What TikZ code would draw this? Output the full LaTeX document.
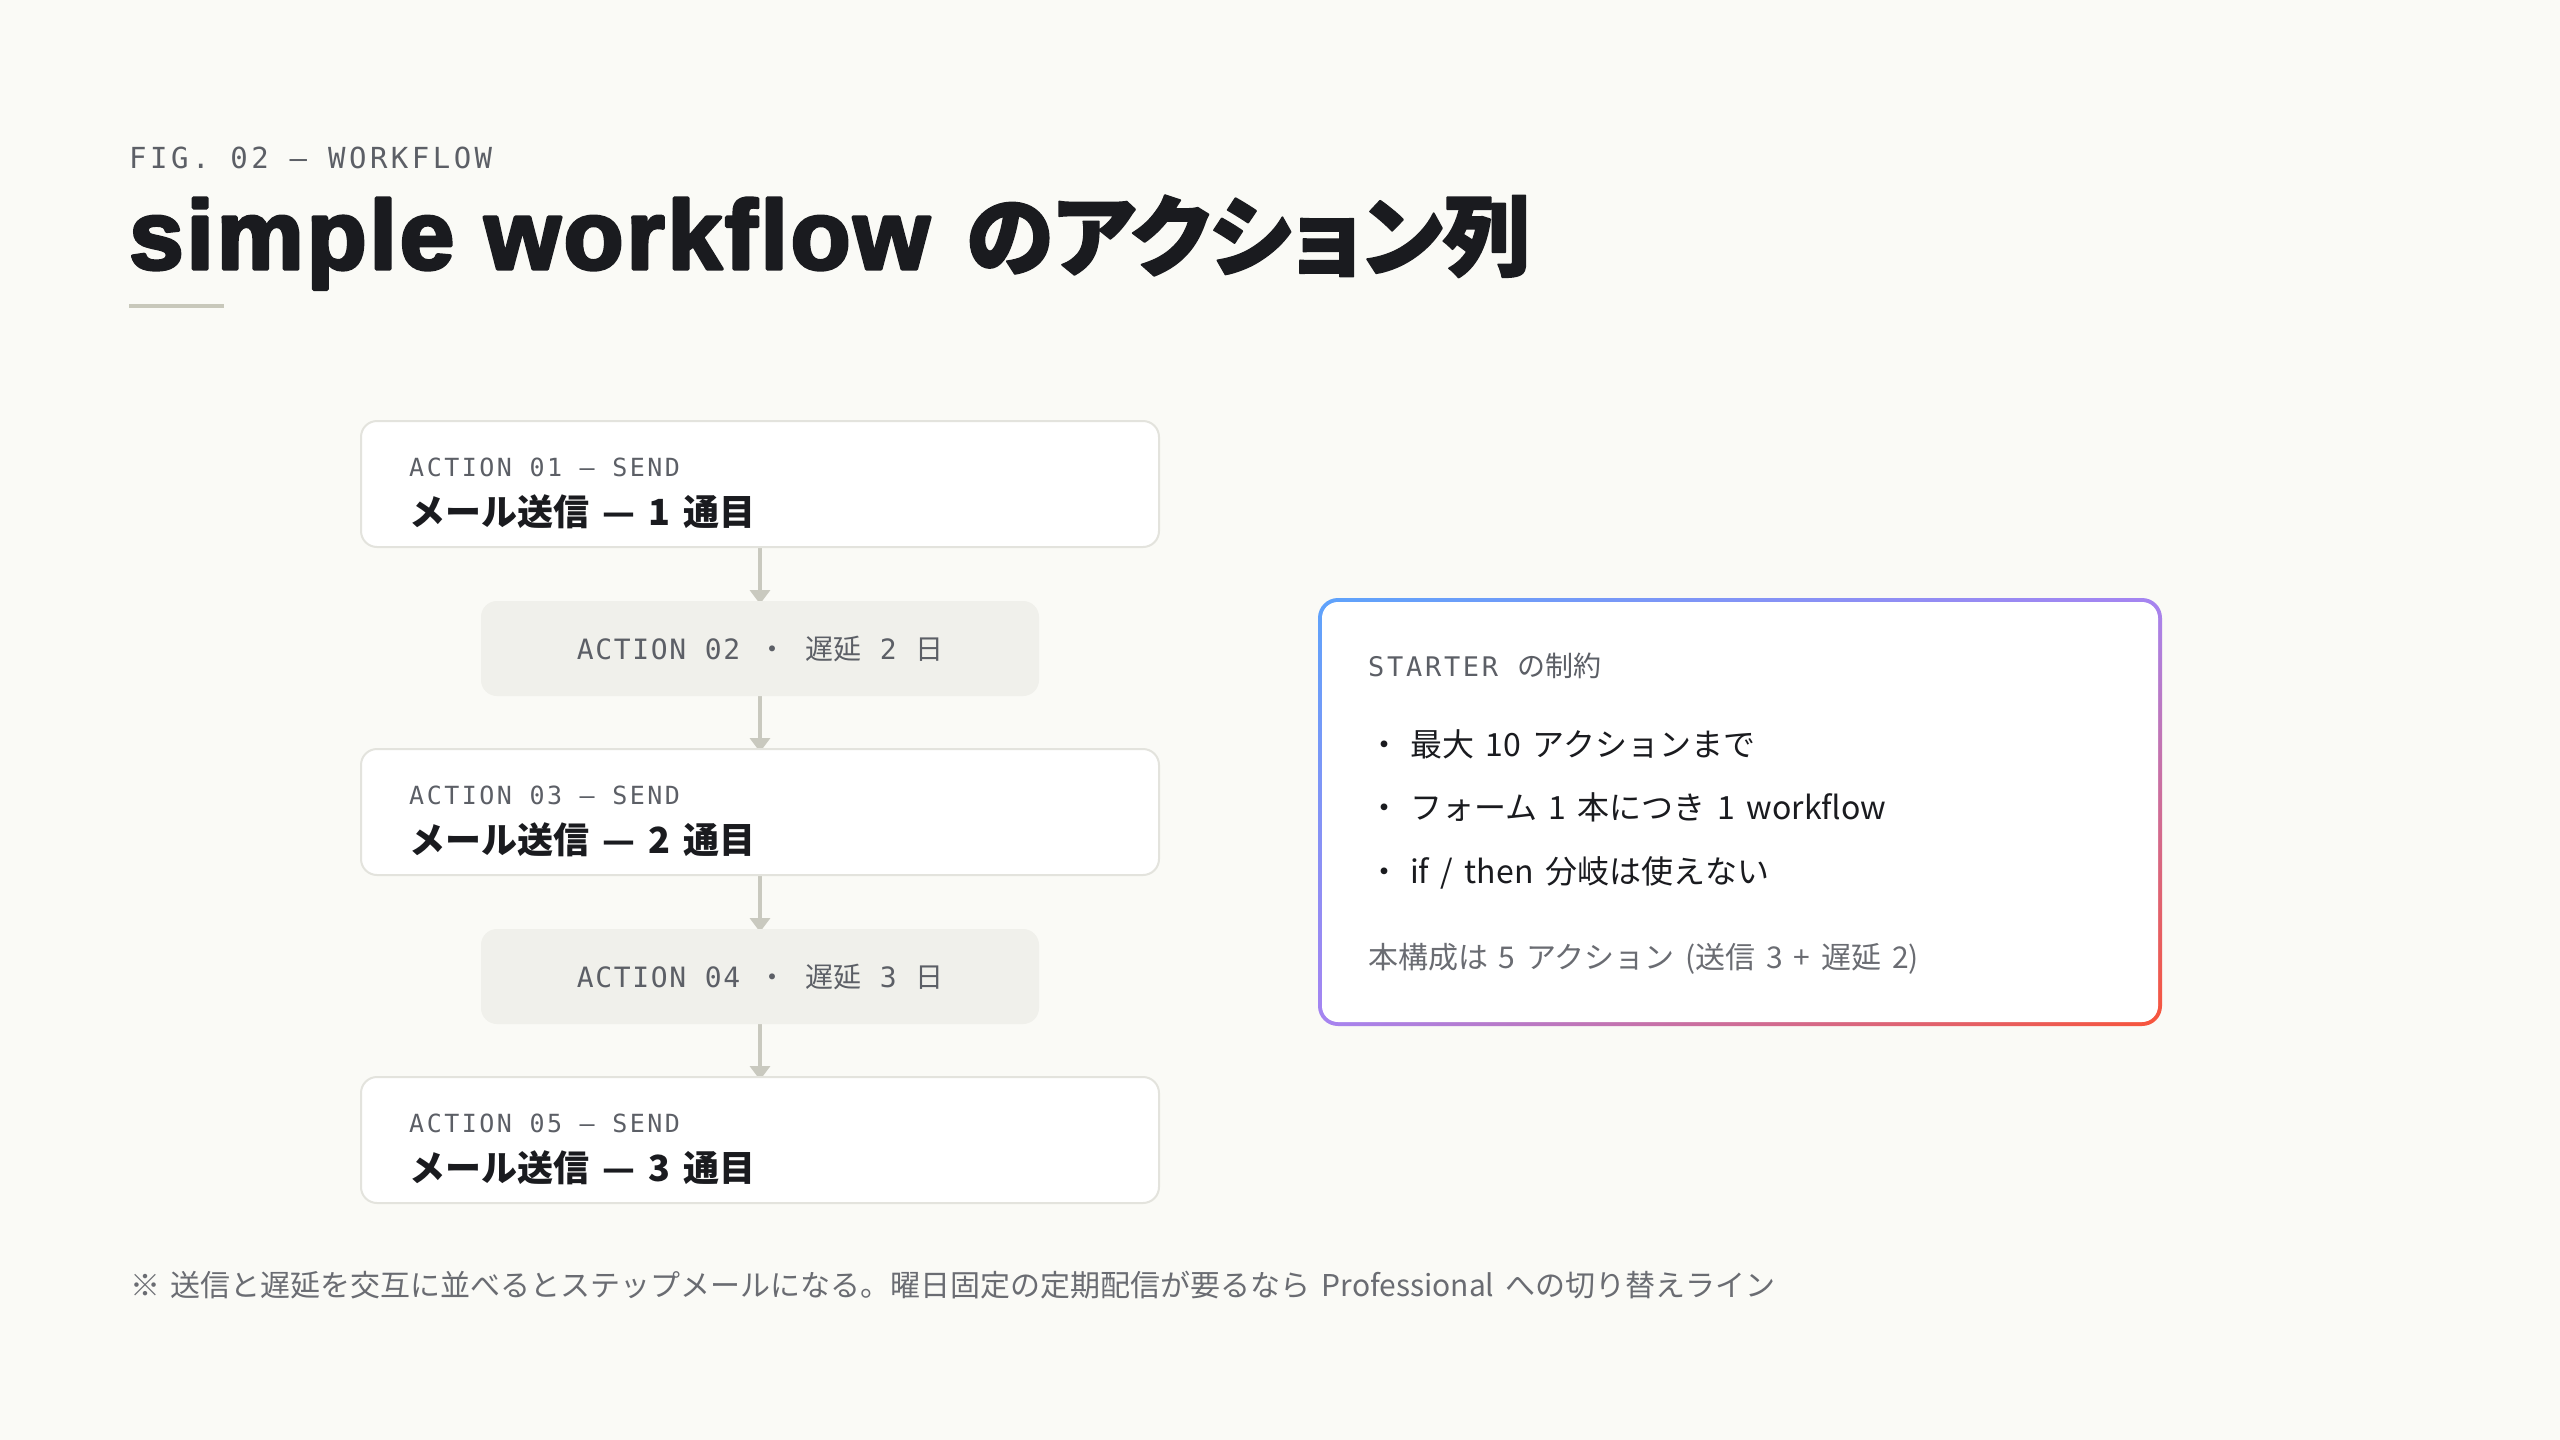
\documentclass[tikz,border=0pt]{standalone}
\usepackage{fontspec}
\setmainfont{Noto Sans CJK JP}[WordSpace=1.6]
\setmonofont{DejaVu Sans Mono}
\newfontfamily\cjk{Noto Sans CJK JP}[WordSpace=1.6]
\newfontfamily\cjkhead{Noto Sans CJK JP}[RawFeature=+palt,BoldFeatures={FakeBold=2}]
\newfontfamily\latinhead{Liberation Sans}[BoldFeatures={FakeBold=3.5,LetterSpace=3}]
\newfontfamily\tagmono{DejaVu Sans Mono}[LetterSpace=10]
\newfontfamily\delaymono{DejaVu Sans Mono}[LetterSpace=6]
\newfontfamily\figmono{DejaVu Sans Mono}[LetterSpace=12]
\usetikzlibrary{positioning,calc,arrows.meta,backgrounds,shadings}

\definecolor{paper}{HTML}{FAFAF6}
\definecolor{ink}{HTML}{1A1B1F}
\definecolor{mute}{HTML}{5C5F66}
\definecolor{note}{HTML}{6A6C72}
\definecolor{boxline}{HTML}{E3E3DD}
\definecolor{delayfill}{HTML}{F0F0EB}
\definecolor{flowgray}{HTML}{C9C9BF}
\definecolor{barc}{HTML}{C8C8BB}
\definecolor{gblue}{HTML}{5EA3FB}
\definecolor{gpurple}{HTML}{A684F1}
\definecolor{gred}{HTML}{F8543A}

\newcommand{\jp}[1]{{\cjk #1}}

\begin{document}
\begin{tikzpicture}[x=1pt,y=-1pt,line cap=round,line join=round,
  sendbox/.style={draw=boxline,line width=2pt,fill=white,rounded corners=16pt,
    minimum width=798pt,minimum height=126pt,inner sep=0pt,outer sep=0pt},
  delaybox/.style={fill=delayfill,rounded corners=16pt,minimum width=558pt,
    minimum height=95pt,inner sep=0pt,outer sep=0pt,text height=21pt,text depth=0pt,
    text=mute,font=\delaymono\fontsize{28}{32}\selectfont},
  tag/.style={anchor=base west,inner sep=0pt,text=mute,
    font=\tagmono\fontsize{25}{30}\selectfont},
  headline/.style={anchor=base west,inner sep=0pt,text=ink,
    font=\cjk\bfseries\fontsize{36}{40}\selectfont},
  bullet/.style={anchor=base west,inner sep=0pt,text=ink,
    font=\cjk\fontsize{32}{36}\selectfont},
  flow/.style={draw=flowgray,line width=4pt,line cap=butt,shorten >=-3pt,
    -{Triangle[width=20pt,length=14pt]}}]
  \useasboundingbox (0,0) rectangle (2560,1440);

  %--- Heading ----------------------------------------------------------------
  \node[anchor=base west,inner sep=0pt,text=mute,font=\figmono\fontsize{29}{34}\selectfont]
    (figlabel) at (129,168) {FIG. 02 — WORKFLOW};
  \node[anchor=base west,inner sep=0pt,text=ink,font=\latinhead\bfseries\fontsize{98}{110}\selectfont]
    (titlelat) at (129,269) {simple workflow};
  \node[anchor=base west,inner sep=0pt,text=ink,font=\cjkhead\bfseries\fontsize{88}{100}\selectfont]
    (titlejp) at (966,269) {のアクション列};
  \fill[barc] (129,304) rectangle (224,308);

  %--- Action chain -----------------------------------------------------------
  \node[sendbox] (s1) at (760,484) {};
  \node[delaybox,below=54pt of s1] (d1) {ACTION 02 \jp{・} \jp{遅延} 2 \jp{日}};
  \node[sendbox,below=53pt of d1] (s2) {};
  \node[delaybox,below=54pt of s2] (d2) {ACTION 04 \jp{・} \jp{遅延} 3 \jp{日}};
  \node[sendbox,below=53pt of d2] (s3) {};

  % labels inside the send boxes
  \node[tag] (s1tag) at ($(s1.north west)+(48,55)$) {ACTION 01 — SEND};
  \node[headline] (s1txt) at ($(s1.north west)+(48,104)$) {メール送信 — 1 通目};
  \node[tag] (s2tag) at ($(s2.north west)+(48,55)$) {ACTION 03 — SEND};
  \node[headline] (s2txt) at ($(s2.north west)+(48,104)$) {メール送信 — 2 通目};
  \node[tag] (s3tag) at ($(s3.north west)+(48,55)$) {ACTION 05 — SEND};
  \node[headline] (s3txt) at ($(s3.north west)+(48,104)$) {メール送信 — 3 通目};

  %--- Starter card -----------------------------------------------------------
  \shade[upper left=gblue,upper right=gpurple,lower left=gpurple,lower right=gred,
    rounded corners=20pt] (1318,598) rectangle (2162,1026);
  \fill[white,rounded corners=16pt] (1322,602) rectangle (2158,1022);

  \node[anchor=base west,inner sep=0pt,text=mute,font=\tagmono\fontsize{27}{32}\selectfont]
    (cardhead) at (1368,676) {STARTER \jp{\fontsize{28}{32}\selectfont の制約}};
  \node[bullet] (c1) at (1368,756) {・\hspace{10pt}最大 10 アクションまで};
  \node[bullet] (c2) at (1368,819) {・\hspace{10pt}フォーム 1 本につき 1 workflow};
  \node[bullet] (c3) at (1368,883) {・\hspace{10pt}if / then 分岐は使えない};
  \node[anchor=base west,inner sep=0pt,text=note,font=\cjk\fontsize{30}{34}\selectfont]
    (cardsum) at (1368,968) {本構成は 5 アクション (送信 3 + 遅延 2)};

  %--- Footnote ---------------------------------------------------------------
  \node[anchor=base west,inner sep=0pt,text=note,font=\cjk\fontsize{30}{34}\selectfont]
    (footnote) at (130,1296) {※ 送信と遅延を交互に並べるとステップメールになる。曜日固定の定期配信が要るなら Professional への切り替えライン};

  \begin{scope}[on background layer]
    \fill[paper] (0,0) rectangle (2560,1440);
    \draw[flow] (s1) -- (d1);
    \draw[flow] (d1) -- (s2);
    \draw[flow] (s2) -- (d2);
    \draw[flow] (d2) -- (s3);
  \end{scope}
\end{tikzpicture}
\end{document}
